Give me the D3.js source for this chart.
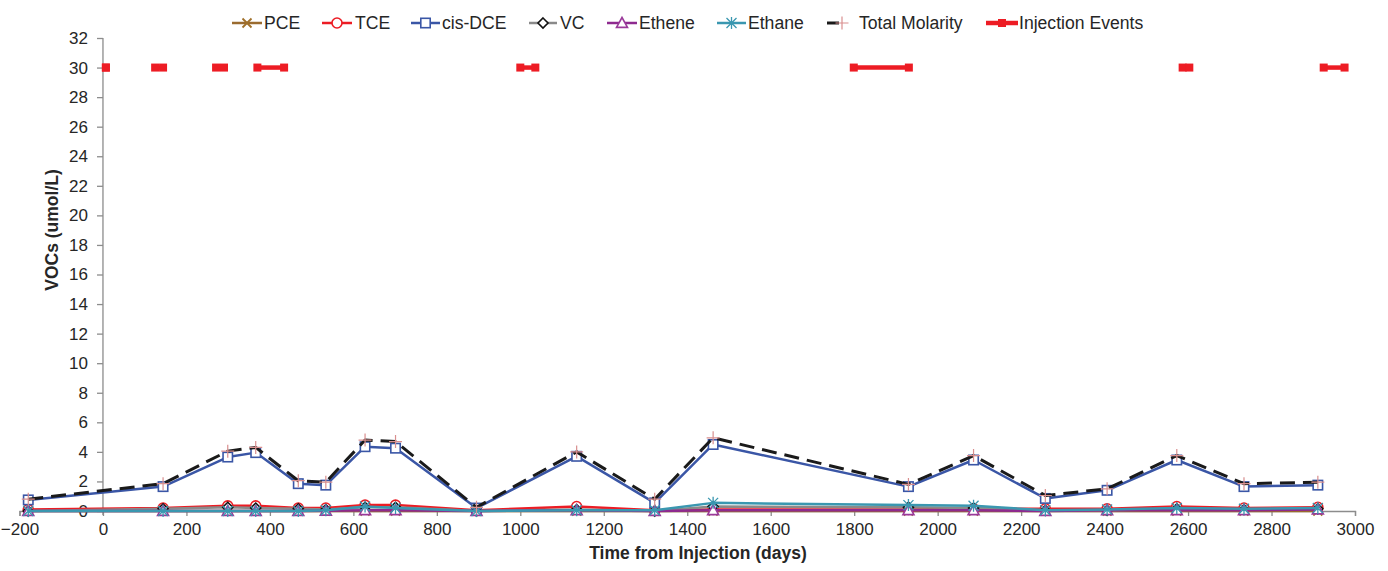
<!DOCTYPE html>
<html>
<head>
<meta charset="utf-8">
<script src="https://cdn.jsdelivr.net/npm/d3@7"></script>
<style>
  html, body { margin: 0; padding: 0; background: #fff; }
  svg { display: block; font-family: "Liberation Sans", Arial, sans-serif; }
</style>
</head>
<body>
<svg id="chart" width="1388" height="571"></svg>
<script>
// Sampling days (relative to first injection)
const days = [-179, 144, 299, 366, 468, 534, 628, 701, 895, 1135, 1322, 1462, 1930, 2086, 2258, 2406, 2573, 2734, 2911];

// Concentrations, umol/L
const pce     = [0, 0, 0, 0, 0, 0, 0, 0, 0, 0, 0, 0, 0, 0, 0, 0, 0, 0, 0];
const tce     = [0.1, 0.2, 0.35, 0.35, 0.2, 0.2, 0.4, 0.4, 0.05, 0.3, 0.05, 0.1, 0.1, 0.15, 0.15, 0.15, 0.3, 0.2, 0.25];
const cisDce  = [0.75, 1.65, 3.65, 3.95, 1.85, 1.75, 4.35, 4.25, 0.2, 3.7, 0.55, 4.5, 1.65, 3.45, 0.85, 1.4, 3.45, 1.65, 1.75];
const vc      = [0, 0.15, 0.25, 0.2, 0.15, 0.1, 0.25, 0.25, 0, 0.1, 0, 0.3, 0.25, 0.2, 0.05, 0.05, 0.15, 0.1, 0.15];
const ethene  = [0, 0, 0, 0, 0, 0.02, 0.05, 0.05, 0, 0.05, 0, 0.05, 0.05, 0.05, 0, 0.05, 0.05, 0.05, 0.1];
const ethane  = [0, 0, 0, 0, 0, 0.05, 0.3, 0.2, 0, 0.05, 0.05, 0.55, 0.4, 0.35, 0.05, 0.1, 0.2, 0.15, 0.2];
const totalMolarity = [0.8, 1.85, 4.05, 4.3, 2.05, 1.95, 4.8, 4.7, 0.25, 4.0, 0.8, 4.95, 1.8, 3.75, 1.05, 1.5, 3.75, 1.85, 1.95];

// Injection periods (start/end day), plotted at a fixed marker level
const injStart = [7, 125, 271, 370, 1000, 1799, 2587, 2925];
const injEnd   = [7, 144, 290, 434, 1036, 1931, 2603, 2975];
const injLevel = 30;

// Axis ticks
const xTicks = d3.range(-200, 3001, 200);
const yTicks = d3.range(0, 33, 2);

const svg = d3.select("#chart");
const x = d3.scaleLinear().domain([-200, 3000]).range([19.5, 1355]);
const y = d3.scaleLinear().domain([0, 32]).range([511, 38]);

const axisColor = "#8c8c8c";
const textColor = "#262626";

// X axis at y = 0
const xAxis = svg.append("g")
  .attr("transform", `translate(0,${y(0)})`)
  .call(d3.axisBottom(x).tickValues(xTicks).tickSize(5).tickPadding(7).tickFormat(d3.format("d")));
xAxis.select(".domain").attr("stroke", axisColor).attr("stroke-width", 1.3);
xAxis.selectAll(".tick line").attr("stroke", axisColor).attr("stroke-width", 1.3);
xAxis.selectAll(".tick text").attr("fill", textColor).style("font-size", "17px").attr("dy", "0.72em");

// Y axis crossing at x = 0
const yAxis = svg.append("g")
  .attr("transform", `translate(${x(0)},0)`)
  .call(d3.axisLeft(y).tickValues(yTicks).tickSize(6).tickPadding(9).tickSizeOuter(0));
yAxis.select(".domain").attr("stroke", axisColor).attr("stroke-width", 1.3)
  .attr("d", `M0,${y(32)}V${y(0) + 4}`);
yAxis.selectAll(".tick line").attr("stroke", axisColor).attr("stroke-width", 1.3);
yAxis.selectAll(".tick text").attr("fill", textColor).style("font-size", "17px");

// Axis titles
svg.append("text")
  .attr("x", 698).attr("y", 559)
  .attr("text-anchor", "middle")
  .attr("fill", textColor)
  .style("font-size", "17.5px").style("font-weight", "bold")
  .text("Time from Injection (days)");
svg.append("text")
  .attr("transform", `translate(58,230) rotate(-90)`)
  .attr("text-anchor", "middle")
  .attr("fill", textColor)
  .style("font-size", "17.5px").style("font-weight", "bold")
  .text("VOCs (umol/L)");

// Marker painters
const markers = {
  cross(g, s, c) {
    g.append("path").attr("d", `M${-s},${-s}L${s},${s}M${-s},${s}L${s},${-s}`)
      .attr("stroke", c).attr("stroke-width", 1.8).attr("fill", "none");
  },
  circle(g, s, c) {
    g.append("circle").attr("r", s).attr("fill", "#fff").attr("stroke", c).attr("stroke-width", 1.6);
  },
  square(g, s, c) {
    g.append("rect").attr("x", -s).attr("y", -s).attr("width", 2 * s).attr("height", 2 * s)
      .attr("fill", "#fff").attr("stroke", c).attr("stroke-width", 1.6);
  },
  diamond(g, s, c) {
    g.append("path").attr("d", `M0,${-s}L${s},0L0,${s}L${-s},0Z`)
      .attr("fill", "#fff").attr("stroke", c).attr("stroke-width", 1.6);
  },
  triangle(g, s, c) {
    g.append("path").attr("d", `M0,${-s}L${s},${s * 0.8}L${-s},${s * 0.8}Z`)
      .attr("fill", "#fff").attr("stroke", c).attr("stroke-width", 1.6);
  },
  asterisk(g, s, c) {
    g.append("path").attr("d", `M${-s},${-s}L${s},${s}M${-s},${s}L${s},${-s}M0,${-s * 1.2}L0,${s * 1.2}`)
      .attr("stroke", c).attr("stroke-width", 1.3).attr("fill", "none");
  },
  plus(g, s, c) {
    g.append("path").attr("d", `M${-s},0L${s},0M0,${-s}L0,${s}`)
      .attr("stroke", c).attr("stroke-width", 1.2).attr("fill", "none");
  },
  block(g, s, c) {
    g.append("rect").attr("x", -s).attr("y", -s).attr("width", 2 * s).attr("height", 2 * s)
      .attr("fill", c);
  }
};

const series = [
  { name: "PCE", values: pce, color: "#9a6b2f", marker: "cross", mcolor: "#a0702a", ms: 4.5, width: 2.5 },
  { name: "TCE", values: tce, color: "#ec1c24", marker: "circle", mcolor: "#ec1c24", ms: 5, width: 2.5 },
  { name: "cis-DCE", values: cisDce, color: "#3a56a6", marker: "square", mcolor: "#3a56a6", ms: 4.7, width: 2.5 },
  { name: "VC", values: vc, color: "#8a8a8a", marker: "diamond", mcolor: "#111", ms: 5, width: 2.5 },
  { name: "Ethene", values: ethene, color: "#8e2a8f", marker: "triangle", mcolor: "#9a3a9a", ms: 5.5, width: 2.5 },
  { name: "Ethane", values: ethane, color: "#3a97b0", marker: "asterisk", mcolor: "#3a97b0", ms: 5, width: 2.5 },
  { name: "Total Molarity", values: totalMolarity, color: "#1a1a1a", marker: "plus", mcolor: "#d98f8f", ms: 6.5, width: 3, dash: "15,8" }
];

const line = d3.line().x(d => x(d[0])).y(d => y(d[1]));
const plot = svg.append("g");

series.forEach(s => {
  const pts = days.map((d, i) => [d, s.values[i]]);
  plot.append("path")
    .attr("d", line(pts))
    .attr("fill", "none")
    .attr("stroke", s.color)
    .attr("stroke-width", s.width)
    .attr("stroke-linejoin", "round")
    .attr("stroke-dasharray", s.dash || null);
  pts.forEach(p => {
    const g = plot.append("g").attr("transform", `translate(${x(p[0])},${y(p[1])})`);
    markers[s.marker](g, s.ms, s.mcolor);
  });
});

// Injection periods
const injColor = "#ed1c24";
injStart.forEach((st, i) => {
  const pts = [[st, injLevel], [injEnd[i], injLevel]];
  plot.append("path")
    .attr("d", line(pts))
    .attr("stroke", injColor).attr("stroke-width", 4.5).attr("fill", "none");
  pts.forEach(p => {
    const g = plot.append("g").attr("transform", `translate(${x(p[0])},${y(p[1])})`);
    markers.block(g, 4, injColor);
  });
});

// Legend
const legendItems = [
  { s: series[0], x0: 232, x1: 262, tx: 264 },
  { s: series[1], x0: 322, x1: 352, tx: 355 },
  { s: series[2], x0: 411, x1: 440, tx: 442 },
  { s: series[3], x0: 529, x1: 557, tx: 560 },
  { s: series[4], x0: 607, x1: 637, tx: 639 },
  { s: series[5], x0: 717, x1: 746, tx: 748 },
  { s: series[6], x0: 827, x1: 847, tx: 859, mx: 842 },
  { s: { name: "Injection Events", color: injColor, marker: "block", mcolor: injColor, ms: 4, width: 4.5 }, x0: 986, x1: 1018, tx: 1019 }
];
const ly = 23;
const legend = svg.append("g");
legendItems.forEach(it => {
  const s = it.s;
  legend.append("line")
    .attr("x1", it.x0).attr("x2", s.dash ? it.x1 - 8 : it.x1).attr("y1", ly).attr("y2", ly)
    .attr("stroke", s.color).attr("stroke-width", s.width);
  const mx = it.mx !== undefined ? it.mx : (it.x0 + it.x1) / 2;
  const g = legend.append("g").attr("transform", `translate(${mx},${ly})`);
  markers[s.marker](g, s.ms, s.mcolor);
  legend.append("text")
    .attr("x", it.tx).attr("y", ly).attr("dy", "0.35em")
    .attr("fill", textColor)
    .style("font-size", "17.6px")
    .text(s.name);
});
</script>
</body>
</html>
